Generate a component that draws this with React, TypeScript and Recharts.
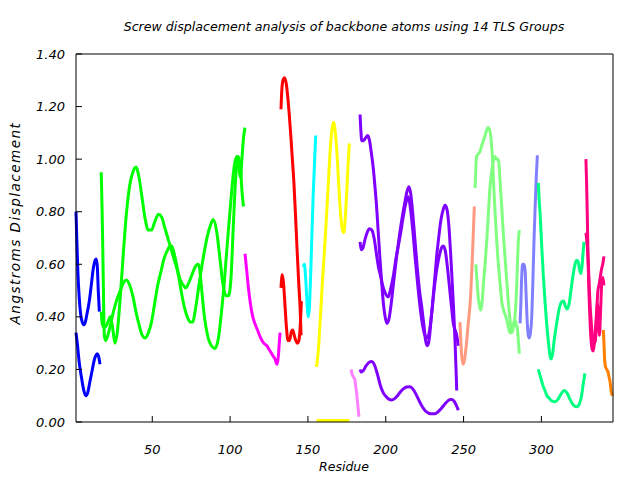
import { LineChart, Line, XAxis, YAxis } from 'recharts';

// each curve: [residue, displacement]
type Pt = [number, number];

const xTicks = [50, 100, 150, 200, 250, 300];
const yTicks = [0, 0.2, 0.4, 0.6, 0.8, 1.0, 1.2, 1.4];

const blueHigh: Pt[] = [[1,0.80],[1.6,0.68],[2.2,0.57],[3,0.48],[4,0.41],[5,0.38],[6,0.37],[7,0.38],[8,0.41],[9,0.44],[10,0.48],[11,0.53],[12,0.58],[13,0.61],[14,0.62],[14.7,0.59],[15.3,0.50],[16,0.42]];
const blueLow: Pt[] = [[1,0.34],[2,0.29],[3,0.23],[4.5,0.17],[6,0.12],[7.3,0.10],[8.5,0.11],[9.5,0.14],[10.5,0.17],[11.5,0.20],[12.5,0.23],[13.5,0.25],[14.5,0.26],[15.5,0.25],[16.4,0.22]];

const greenA: Pt[] = [[17.2,0.95],[17.8,0.80],[18.5,0.55],[19.2,0.33],[20,0.31],[21.5,0.33],[23.5,0.38],[25.5,0.43],[27.5,0.47],[29.5,0.50],[31.5,0.53],[33.5,0.54],[35.5,0.52],[37.5,0.48],[39.5,0.42],[41.5,0.37],[43.5,0.33],[45.5,0.32],[47.5,0.34],[49.5,0.38],[51.5,0.45],[53.5,0.52],[55.5,0.57],[57.5,0.62],[59.5,0.65],[61.5,0.67],[62.5,0.67],[64.5,0.63],[66.5,0.57],[68.5,0.50],[70.5,0.44],[72.5,0.40],[74.5,0.38],[76,0.38],[77.5,0.42],[79.5,0.50],[81.5,0.58],[83.5,0.65],[85.5,0.71],[87.5,0.75],[89.2,0.77],[91.5,0.72],[93.5,0.62],[95.5,0.52],[97.5,0.48],[99,0.48],[100.6,0.55],[102.1,0.75],[103.6,0.93],[105.1,1.01],[106.6,0.98],[107.6,0.88],[108.6,0.82]];
const greenB: Pt[] = [[17.2,0.42],[18,0.37],[19.5,0.36],[21.5,0.38],[23,0.40],[24.5,0.36],[26,0.30],[27.5,0.34],[29.5,0.48],[31.5,0.65],[33.5,0.80],[35.5,0.90],[37.5,0.95],[39.5,0.97],[41.5,0.93],[43.5,0.85],[45.5,0.77],[47.5,0.73],[49.5,0.73],[51.5,0.76],[54,0.79],[56,0.78],[58,0.74],[60,0.70],[62,0.66],[64,0.62],[66,0.58],[68,0.54],[70,0.52],[71.5,0.51],[73.5,0.53],[75.5,0.56],[77.5,0.59],[79.5,0.60],[80.5,0.58],[81.5,0.52],[83.5,0.40],[85.5,0.33],[88,0.29],[90.3,0.28],[92.5,0.32],[94.5,0.42],[96.5,0.55],[98.5,0.70],[100.6,0.85],[102.6,0.97],[104.2,1.01],[105.6,0.97],[106.6,0.93],[107.6,1.00],[108.6,1.08],[109.6,1.12]];

const magenta: Pt[] = [[109.6,0.64],[110.6,0.58],[111.6,0.52],[112.6,0.47],[113.6,0.43],[114.6,0.40],[115.6,0.38],[117.6,0.35],[119.6,0.32],[121.6,0.30],[123.6,0.29],[125.7,0.27],[127.7,0.25],[128.8,0.24],[130.1,0.22],[131,0.25],[131.6,0.30],[132.1,0.34]];

const redHigh: Pt[] = [[132.7,1.19],[133.2,1.26],[134,1.30],[135,1.31],[136,1.29],[137,1.24],[138,1.17],[139,1.09],[140,1.00],[141,0.91],[142,0.79],[143,0.66],[144,0.54],[145,0.43],[145.6,0.33]];
const redLow: Pt[] = [[132.7,0.51],[133.5,0.56],[134.3,0.53],[135.2,0.45],[136.2,0.36],[137.2,0.31],[138.2,0.31],[139.2,0.34],[140.2,0.35],[141.2,0.33],[142.2,0.31],[143.2,0.30],[144.2,0.31],[145,0.36],[145.8,0.46]];

const cyan: Pt[] = [[147,0.59],[147.7,0.60],[148.4,0.56],[149.2,0.48],[149.8,0.42],[150.3,0.40],[151,0.44],[151.7,0.55],[152.5,0.70],[153.3,0.85],[154.2,0.98],[155,1.09]];

const yellowHigh: Pt[] = [[155.6,0.21],[156.3,0.25],[156.8,0.28],[157.5,0.35],[158.5,0.45],[159.5,0.55],[160.5,0.64],[161.5,0.74],[162.5,0.84],[163.5,0.95],[164.5,1.05],[165.4,1.11],[166.3,1.14],[167,1.13],[167.8,1.09],[168.8,1.01],[169.6,0.92],[170.4,0.84],[171.3,0.77],[172.2,0.73],[173,0.72],[173.8,0.76],[174.9,0.87],[175.8,0.98],[176.6,1.06]];
const yellowLow: Pt[] = [[155.6,0.006],[160,0.006],[165,0.006],[170,0.006],[176.6,0.006]];

const pink: Pt[] = [[177.7,0.20],[178.5,0.18],[179.4,0.17],[180.2,0.16],[180.8,0.13],[181.3,0.11],[181.8,0.08],[182.3,0.05],[182.8,0.02]];

const purple1: Pt[] = [[183.5,1.17],[184,1.11],[184.6,1.07],[185.5,1.07],[187,1.08],[188.4,1.09],[189.6,1.07],[190.6,1.03],[191.9,0.97],[193,0.90],[194.1,0.82],[195.2,0.72],[196.3,0.62],[197.4,0.53],[198.5,0.45],[199.6,0.40],[200.7,0.375],[202,0.39],[203.5,0.45],[205.2,0.54],[207,0.63],[208.8,0.71],[210.6,0.78],[212.4,0.84],[213.8,0.88],[214.9,0.895],[216,0.87],[217.4,0.79],[218.8,0.69],[220.2,0.59],[221.7,0.50],[223.1,0.44],[224.5,0.37],[225.6,0.31],[226.7,0.29],[227.8,0.31],[229,0.38],[230.5,0.48],[231.7,0.56],[232.7,0.63],[234,0.70],[235.5,0.77],[237,0.81],[238.1,0.825],[239.3,0.81],[240.5,0.75],[241.5,0.66],[242.4,0.565],[243.5,0.44],[244.5,0.31],[245.1,0.21],[245.6,0.12]];
const purple2: Pt[] = [[183.5,0.685],[184.2,0.655],[185.2,0.66],[186.5,0.69],[188,0.72],[189.5,0.735],[191,0.73],[192.5,0.70],[194,0.64],[195.3,0.59],[196.5,0.56],[198,0.52],[199.7,0.49],[201.6,0.476],[203.3,0.51],[205,0.56],[206.5,0.62],[208,0.667],[209.6,0.72],[211.2,0.78],[212.8,0.83],[214.5,0.857],[215.7,0.82],[217.2,0.74],[218.8,0.63],[220.4,0.53],[222,0.44],[223.6,0.37],[225.2,0.33],[226.7,0.32],[228.2,0.35],[229.8,0.43],[231.4,0.52],[233,0.59],[234.7,0.64],[236,0.665],[237,0.67],[238.3,0.65],[239.6,0.59],[241,0.51],[242.2,0.44],[243.4,0.375],[244.5,0.35],[245.6,0.33],[246.6,0.29]];
const purple3: Pt[] = [[183.5,0.20],[184.3,0.19],[185.5,0.195],[187.5,0.215],[189.5,0.228],[191,0.23],[192.5,0.22],[194.5,0.185],[196.5,0.14],[198.5,0.11],[200.5,0.095],[202,0.087],[203.8,0.084],[205.5,0.088],[207.5,0.10],[209.5,0.115],[211.5,0.127],[213.5,0.133],[215.6,0.134],[217.5,0.125],[219.5,0.105],[221.5,0.08],[223.5,0.058],[225.5,0.042],[227.5,0.034],[229.5,0.031],[231.6,0.031],[233.5,0.038],[235.5,0.05],[237.5,0.065],[239.5,0.078],[241,0.085],[242.4,0.086],[243.8,0.08],[245.2,0.065],[246.6,0.045]];

const salmon: Pt[] = [[247.7,0.38],[248.3,0.30],[249,0.24],[249.8,0.22],[250.7,0.24],[251.7,0.29],[253,0.375],[254.2,0.45],[255.2,0.565],[256,0.68],[256.9,0.82]];

const lightGreen1: Pt[] = [[257.4,0.89],[257.9,0.97],[258.4,1.01],[259.5,1.02],[260.6,1.03],[261.6,1.05],[262.7,1.07],[263.8,1.09],[264.8,1.11],[265.7,1.12],[266.8,1.11],[267.6,1.08],[268.4,1.02],[269,0.95],[269.6,0.87],[270.4,0.78],[271.3,0.69],[272.1,0.62],[272.9,0.565],[273.7,0.51],[274.5,0.46],[275.5,0.43],[276.6,0.41],[277.7,0.39],[278.8,0.36],[279.8,0.34],[280.9,0.34],[282,0.36],[283,0.40],[283.7,0.46],[284.5,0.58],[285.2,0.69],[285.8,0.73]];
const lightGreen2: Pt[] = [[257.9,0.60],[258.6,0.54],[259.5,0.47],[260.3,0.44],[261,0.426],[261.8,0.45],[262.7,0.52],[263.8,0.60],[264.9,0.69],[266,0.80],[267,0.895],[268,0.95],[269,0.99],[270.2,1.01],[271.2,1.00],[272.3,1.00],[273.4,0.92],[274.5,0.82],[275.5,0.72],[276.6,0.63],[277.7,0.54],[278.7,0.46],[279.8,0.39],[280.9,0.34],[282,0.37],[283,0.39],[283.8,0.37],[284.5,0.36],[285.2,0.31],[285.8,0.26]];

const periwinkle: Pt[] = [[286.3,0.375],[286.8,0.45],[287.4,0.56],[288,0.60],[288.8,0.60],[289.5,0.58],[290.2,0.48],[291,0.37],[291.6,0.33],[292.2,0.32],[293,0.34],[293.8,0.40],[294.6,0.55],[295.3,0.70],[296,0.82],[296.7,0.93],[297.4,1.015]];

const springHigh: Pt[] = [[298,0.91],[298.5,0.85],[299.2,0.79],[300.2,0.67],[301.2,0.56],[302.3,0.46],[303.3,0.38],[304.4,0.31],[305.3,0.26],[306.2,0.24],[307.2,0.26],[308.2,0.31],[309.8,0.375],[311.4,0.43],[313,0.457],[314.2,0.46],[315.4,0.44],[316.6,0.43],[317.8,0.45],[319.2,0.51],[320.5,0.565],[321.6,0.60],[322.7,0.615],[323.6,0.61],[324.5,0.58],[325.4,0.565],[326.2,0.60],[327,0.66],[327.4,0.685]];
const springLow: Pt[] = [[298,0.20],[299,0.18],[300.2,0.155],[301.2,0.135],[302.3,0.12],[303.6,0.10],[305,0.09],[306.6,0.08],[308.7,0.077],[310.5,0.085],[312.5,0.105],[314.7,0.12],[316.5,0.11],[318.5,0.085],[320.5,0.065],[322.7,0.058],[324.5,0.07],[325.8,0.10],[327,0.15],[328,0.185]];

const deepPink1: Pt[] = [[328.6,1.00],[329,0.92],[329.5,0.78],[330,0.62],[330.5,0.50],[331,0.42],[331.7,0.33],[332.5,0.28],[333.3,0.27],[334,0.30],[334.7,0.35],[335.5,0.42],[336.3,0.50],[337,0.52],[337.8,0.55],[338.6,0.58],[339.4,0.60],[340.2,0.63]];
const deepPink2: Pt[] = [[328.6,0.72],[329,0.70],[329.7,0.65],[330.3,0.58],[331,0.48],[332,0.38],[333,0.32],[334,0.30],[334.7,0.31],[335.3,0.38],[336,0.45],[336.7,0.38],[337.3,0.33],[338,0.42],[338.8,0.53],[339.5,0.55],[340.2,0.52]];

const orange: Pt[] = [[339.8,0.35],[340.2,0.30],[340.6,0.24],[341.2,0.21],[342,0.20],[342.8,0.19],[343.5,0.17],[344.2,0.15],[344.8,0.12],[345.6,0.10]];

// mirror: plot this curve against the top/right axes (same domains) so those frame axes get drawn
const curves: { pts: Pt[]; color: string; mirror?: boolean }[] = [
    { pts: blueHigh, color: '#0000ff' },
    { pts: blueLow, color: '#0000ff' },
    { pts: greenA, color: '#00ff00' },
    { pts: greenB, color: '#00ff00' },
    { pts: magenta, color: '#ff00ff' },
    { pts: redHigh, color: '#ff0000' },
    { pts: redLow, color: '#ff0000' },
    { pts: cyan, color: '#00ffff' },
    { pts: yellowHigh, color: '#ffff00' },
    { pts: yellowLow, color: '#ffff00' },
    { pts: pink, color: '#ff80ff' },
    { pts: purple1, color: '#8000ff' },
    { pts: purple2, color: '#8000ff' },
    { pts: purple3, color: '#8000ff', mirror: true },
    { pts: salmon, color: '#ff9980' },
    { pts: lightGreen1, color: '#80ff80' },
    { pts: lightGreen2, color: '#80ff80' },
    { pts: periwinkle, color: '#8080ff' },
    { pts: springHigh, color: '#00ff80' },
    { pts: springLow, color: '#00ff80' },
    { pts: deepPink1, color: '#ff0080' },
    { pts: deepPink2, color: '#ff0080' },
    { pts: orange, color: '#ff8000' },
];

const font = { fontFamily: 'DejaVu Sans', fontStyle: 'italic' as const, color: '#000' };
const tickStyle = { fontSize: 13, fontFamily: 'DejaVu Sans', fontStyle: 'italic', fill: '#000' };

export default function App() {
    return (
        <div style={{ position: 'absolute', left: 0, top: 0, width: 640, height: 480, background: '#fff' }}>
            <LineChart width={640} height={480} margin={{ top: 44, right: 17, bottom: 28, left: 0 }}>
                <XAxis
                    xAxisId={0}
                    type="number"
                    dataKey="x"
                    domain={[1, 346]}
                    ticks={xTicks}
                    height={30}
                    tickSize={-6}
                    tickMargin={29}
                    tick={tickStyle}
                    axisLine={{ stroke: '#000' }}
                    tickLine={{ stroke: '#000' }}
                />
                <XAxis
                    xAxisId="top"
                    orientation="top"
                    type="number"
                    dataKey="x"
                    domain={[1, 346]}
                    ticks={xTicks}
                    height={10}
                    tickSize={-6}
                    tick={false}
                    axisLine={{ stroke: '#000' }}
                    tickLine={{ stroke: '#000' }}
                />
                <YAxis
                    yAxisId={0}
                    type="number"
                    domain={[0, 1.4]}
                    ticks={yTicks}
                    width={76}
                    tickSize={-6}
                    tickMargin={17}
                    tick={tickStyle}
                    tickFormatter={(v: number) => v.toFixed(2)}
                    axisLine={{ stroke: '#000' }}
                    tickLine={{ stroke: '#000' }}
                />
                <YAxis
                    yAxisId="right"
                    orientation="right"
                    type="number"
                    domain={[0, 1.4]}
                    ticks={yTicks}
                    width={10}
                    tickSize={-6}
                    tick={false}
                    axisLine={{ stroke: '#000' }}
                    tickLine={{ stroke: '#000' }}
                />
                {curves.map((c, i) => (
                    <Line
                        key={i}
                        xAxisId={c.mirror ? 'top' : 0}
                        yAxisId={c.mirror ? 'right' : 0}
                        data={c.pts.map(([x, y]) => ({ x, y }))}
                        dataKey="y"
                        type="monotone"
                        stroke={c.color}
                        strokeWidth={3}
                        dot={false}
                        activeDot={false}
                        isAnimationActive={false}
                    />
                ))}
            </LineChart>
            <div style={{ ...font, position: 'absolute', left: 344, top: 20.5, fontSize: 12.6, lineHeight: 1, whiteSpace: 'nowrap', transform: 'translateX(-50%)' }}>
                Screw displacement analysis of backbone atoms using 14 TLS Groups
            </div>
            <div style={{ ...font, position: 'absolute', left: 344, top: 461, fontSize: 12.5, lineHeight: 1, whiteSpace: 'nowrap', transform: 'translateX(-50%)' }}>
                Residue
            </div>
            <div style={{ ...font, position: 'absolute', left: 16, top: 222.5, fontSize: 13.5, lineHeight: 1, letterSpacing: 1.5, whiteSpace: 'nowrap', transform: 'translate(-50%, -50%) rotate(-90deg)' }}>
                Angstroms Displacement
            </div>
        </div>
    );
}
